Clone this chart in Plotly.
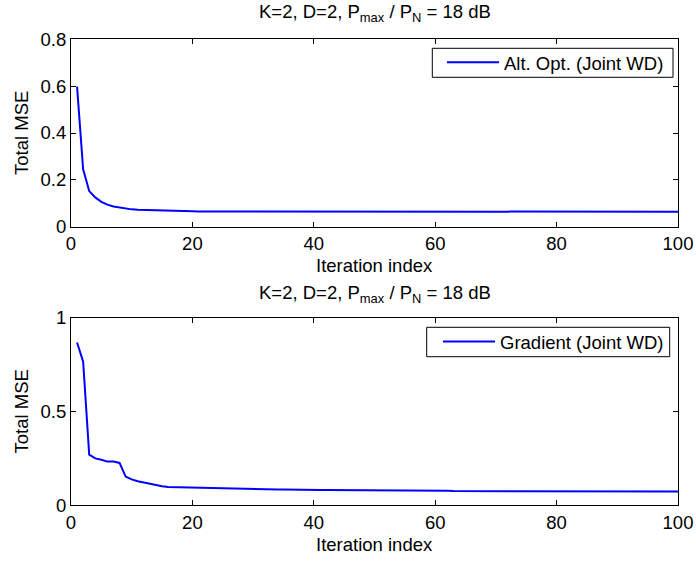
import plotly.graph_objects as go

W, H = 696, 561

iterations = list(range(1, 101))

alt_opt_mse = [
    0.598, 0.245, 0.152, 0.125, 0.106, 0.094, 0.086, 0.081, 0.077, 0.074,
    0.072, 0.071, 0.070, 0.069, 0.068, 0.067, 0.067, 0.066, 0.066, 0.066,
    0.065, 0.065, 0.065, 0.065, 0.065, 0.065, 0.065, 0.065, 0.065, 0.065,
    0.064, 0.064, 0.064, 0.064, 0.064, 0.064, 0.064, 0.064, 0.064, 0.064,
    0.064, 0.064, 0.064, 0.064, 0.064, 0.064, 0.064, 0.064, 0.064, 0.064,
    0.064, 0.064, 0.064, 0.064, 0.064, 0.064, 0.064, 0.064, 0.064, 0.064,
    0.064, 0.064, 0.064, 0.064, 0.064, 0.064, 0.064, 0.064, 0.064, 0.064,
    0.064, 0.064, 0.064, 0.064, 0.064, 0.064, 0.064, 0.064, 0.064, 0.064,
    0.064, 0.064, 0.064, 0.064, 0.064, 0.064, 0.064, 0.064, 0.064, 0.064,
    0.064, 0.064, 0.064, 0.064, 0.064, 0.064, 0.064, 0.064, 0.064, 0.064,
]

gradient_mse = [
    0.868, 0.765, 0.270, 0.250, 0.243, 0.233, 0.233, 0.226, 0.153, 0.138,
    0.128, 0.121, 0.113, 0.107, 0.102, 0.098, 0.097, 0.096, 0.096, 0.095,
    0.095, 0.094, 0.094, 0.092, 0.090, 0.089, 0.088, 0.087, 0.086, 0.086,
    0.085, 0.085, 0.084, 0.084, 0.084, 0.083, 0.083, 0.082, 0.082, 0.082,
    0.081, 0.081, 0.081, 0.080, 0.080, 0.080, 0.080, 0.079, 0.079, 0.079,
    0.079, 0.078, 0.078, 0.078, 0.078, 0.078, 0.077, 0.077, 0.077, 0.077,
    0.077, 0.077, 0.076, 0.076, 0.076, 0.076, 0.076, 0.076, 0.076, 0.075,
    0.075, 0.075, 0.075, 0.075, 0.075, 0.075, 0.075, 0.075, 0.074, 0.074,
    0.074, 0.074, 0.074, 0.074, 0.074, 0.074, 0.074, 0.074, 0.074, 0.074,
    0.073, 0.073, 0.073, 0.073, 0.073, 0.073, 0.073, 0.073, 0.073, 0.073,
]

x_ticks = [0, 20, 40, 60, 80, 100]
top_y_ticks = [0, 0.2, 0.4, 0.6, 0.8]
top_y_labels = ["0", "0.2", "0.4", "0.6", "0.8"]
bot_y_ticks = [0, 0.5, 1]
bot_y_labels = ["0", "0.5", "1"]

title_text = "K=2, D=2, P<sub>max</sub> / P<sub>N</sub> = 18 dB"
x_title = "Iteration index"
y_title = "Total MSE"
name_top = "Alt. Opt. (Joint WD)"
name_bot = "Gradient (Joint WD)"

FONT = "Liberation Sans, Arial, Helvetica, sans-serif"
FS = 18.5

# pixel geometry
xl, xr = 71, 678
top_t, top_b = 39.3, 226.7
bot_t, bot_b = 317.7, 505.3

def px(v):
    return v / W

def py(v):
    return 1 - v / H

fig = go.Figure()
fig.add_trace(go.Scatter(x=iterations, y=alt_opt_mse, mode="lines", name=name_top,
                         line=dict(color="#0000ff", width=2), xaxis="x", yaxis="y",
                         legend="legend"))
fig.add_trace(go.Scatter(x=iterations, y=gradient_mse, mode="lines", name=name_bot,
                         line=dict(color="#0000ff", width=2), xaxis="x2", yaxis="y2",
                         legend="legend2"))

axis_common = dict(showline=True, linecolor="black", linewidth=1, mirror="ticks",
                   ticks="inside", ticklen=5, tickcolor="black", tickwidth=1,
                   showgrid=False, zeroline=False, automargin=False,
                   tickfont=dict(family=FONT, size=FS, color="black"))

legend_common = dict(xanchor="right", yanchor="middle", borderwidth=0,
                     bgcolor="rgba(0,0,0,0)", itemwidth=52,
                     font=dict(family=FONT, size=FS))

fig.update_layout(
    width=W, height=H,
    margin=dict(l=0, r=0, t=0, b=0),
    paper_bgcolor="white", plot_bgcolor="white",
    font=dict(family=FONT, size=FS, color="black"),
    xaxis=dict(domain=[px(xl), px(xr)], range=[0, 100], tickvals=x_ticks,
               anchor="y", **axis_common),
    yaxis=dict(domain=[py(top_b), py(top_t)], range=[0, 0.8], tickvals=top_y_ticks,
               ticktext=top_y_labels, anchor="x", **axis_common),
    xaxis2=dict(domain=[px(xl), px(xr)], range=[0, 100], tickvals=x_ticks,
                anchor="y2", **axis_common),
    yaxis2=dict(domain=[py(bot_b), py(bot_t)], range=[0, 1], tickvals=bot_y_ticks,
                ticktext=bot_y_labels, anchor="x2", **axis_common),
    legend=dict(x=px(669), y=py(62.8), **legend_common),
    legend2=dict(x=px(669), y=py(342), **legend_common),
    showlegend=True,
)

# legend frames
for (x0, x1, y0, y1) in [(432.3, 673, 48.3, 77.3), (426.7, 669.7, 327.3, 356.7)]:
    fig.add_shape(type="rect", xref="paper", yref="paper",
                  x0=px(x0), x1=px(x1), y0=py(y1), y1=py(y0),
                  line=dict(color="black", width=1), fillcolor="white", layer="above")

cx = px((xl + xr) / 2)
annots = [
    dict(text=title_text, x=cx, y=py(13.5), yanchor="middle"),
    dict(text=title_text, x=cx, y=py(294), yanchor="middle"),
    dict(text=x_title, x=cx, y=py(265), yanchor="middle"),
    dict(text=x_title, x=cx, y=py(544), yanchor="middle"),
    dict(text=y_title, x=px(21), y=py((top_t + top_b) / 2), yanchor="middle", textangle=-90),
    dict(text=y_title, x=px(21), y=py((bot_t + bot_b) / 2), yanchor="middle", textangle=-90),
]
for a in annots:
    fig.add_annotation(xref="paper", yref="paper", showarrow=False, xanchor="center",
                       font=dict(family=FONT, size=FS, color="black"), **a)

fig.write_html("out.html")
